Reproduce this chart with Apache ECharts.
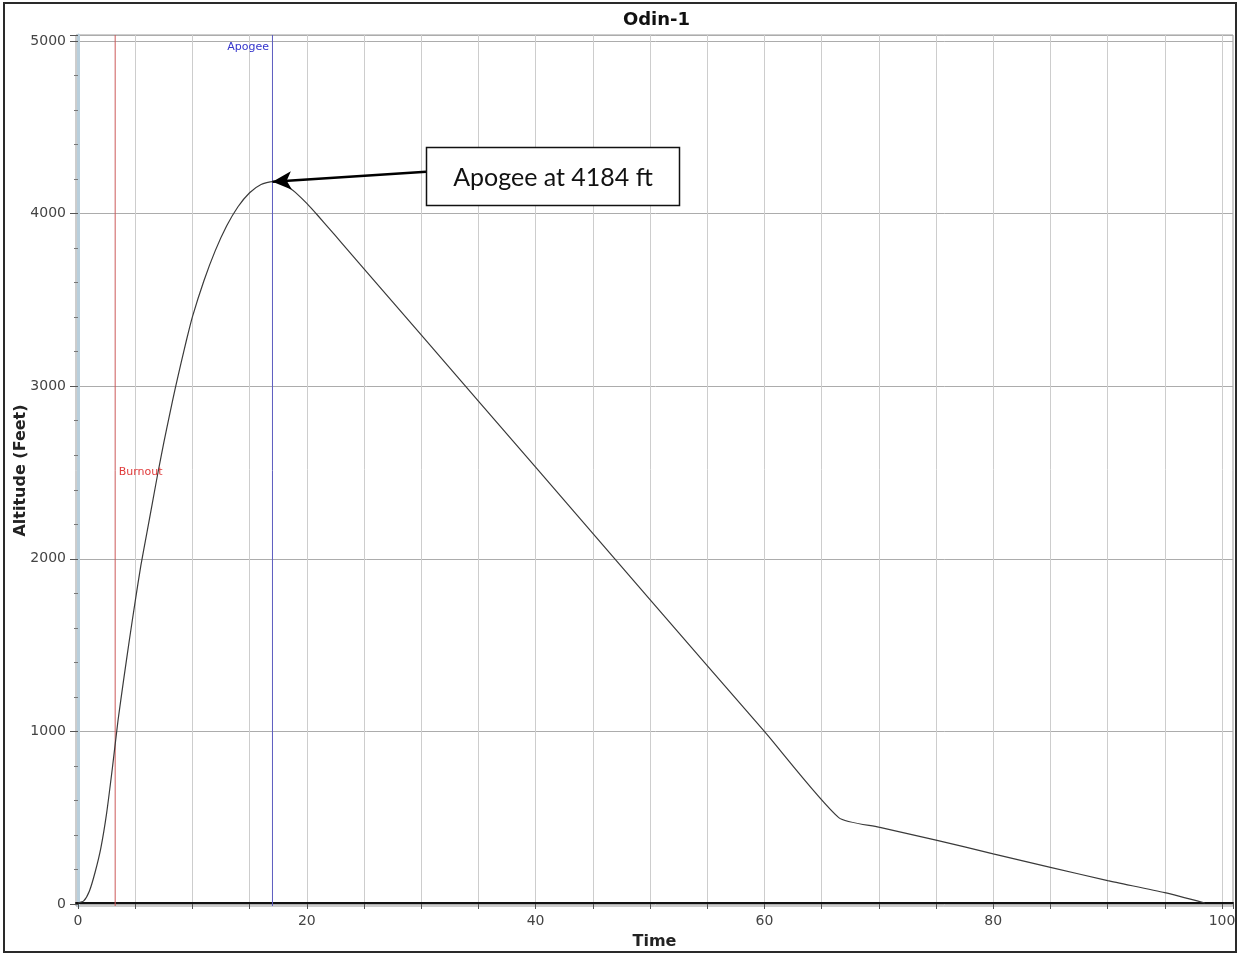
<!DOCTYPE html>
<html><head><meta charset="utf-8">
<script src="https://cdn.jsdelivr.net/npm/echarts@6/dist/echarts.min.js"></script>
<style>html,body{margin:0;padding:0;background:#fff}#c{width:1239px;height:955px}</style>
</head><body><div id="c"></div>
<script>
// ---- data ----
const TIME_S = [0, 0.5, 1.0, 1.5, 2.0, 2.5, 3.0, 3.5, 4.0, 4.5, 5.0, 5.5, 6.0, 6.5, 7.0, 7.5, 8.0, 8.5, 9.0, 9.5, 10.0, 11.0, 12.0, 13.0, 14.0, 15.0, 16.0, 17.0, 17.5, 18.0, 18.5, 19.0, 20.0, 21.0, 22.0, 23.0, 25.0, 30.0, 40.0, 50.0, 60.0, 66.5, 70.0, 75.0, 80.0, 85.0, 90.0, 95.0, 98.5];
const ALTITUDE_FT = [0, 12, 70, 180, 320, 520, 780, 1060, 1300, 1530, 1750, 1960, 2140, 2320, 2500, 2670, 2830, 2985, 3130, 3270, 3400, 3608, 3784, 3928, 4040, 4120, 4168, 4184, 4180, 4167, 4148, 4122, 4058, 3985, 3909, 3832, 3678, 3295, 2528, 1760, 995, 495, 440, 365, 285, 207, 130, 60, 0];
const X_LABELS = [0, 20, 40, 60, 80, 100];
const Y_LABELS = [0, 1000, 2000, 3000, 4000, 5000];
const EVENT_NAMES = ['Burnout', 'Apogee'];
const EVENT_TIMES = [3.25, 17.0];
const APOGEE_POINT = [17.0, 4184];
const NOTE_TEXT = 'Apogee at 4184 ft';

// ---- layout ----
const PX_PER_S = 11.44, PX_PER_FT = 0.1726;
const PLOT = { left: 76, top: 35, right: 1233, bottom: 907 };   // frame
const ORIGIN = { x: 78, y: 904 };                               // pixel of (0,0)
const axX = { min: 0, max: (PLOT.right - ORIGIN.x) / PX_PER_S };
const axY = { min: 0, max: (ORIGIN.y - PLOT.top) / PX_PER_FT };
const frX = { min: -(ORIGIN.x - PLOT.left) / PX_PER_S, max: axX.max };
const frY = { min: -(PLOT.bottom - ORIGIN.y) / PX_PER_FT, max: axY.max };
const NOTE_ANCHOR = [30.42, 4218];      // left-middle of the note box
const NOTE_SIZE = [253, 58];
const ARROW_START = [30.42, 4241];
const EVENT_LABEL_ALT = [2497, 4965];
const EVENT_STYLE = [
  { line: '#cc5a5a', text: '#e03a3a', pos: 'right' },
  { line: '#5c5cc0', text: '#3535cc', pos: 'left' }
];

const data = TIME_S.map((t, i) => [t, ALTITUDE_FT[i]]);
const chart = echarts.init(document.getElementById('c'), null, { renderer: 'canvas' });
const FONT = 'DejaVu Sans';

const border = {
  id: 'frame', type: 'rect', silent: true, z: 100,
  shape: { x: 4, y: 3, width: 1232, height: 949 },
  style: { fill: 'none', stroke: '#2a2a2a', lineWidth: 2 }
};

const eventSeries = EVENT_NAMES.map((n, i) => ({
  type: 'line', name: n, xAxisIndex: 1, yAxisIndex: 1, z: 1,
  data: [[EVENT_TIMES[i], frY.min], [EVENT_TIMES[i], frY.max]],
  showSymbol: false, silent: true,
  lineStyle: { color: EVENT_STYLE[i].line, width: 1 },
  markPoint: {
    silent: true, animation: false,
    data: [{
      coord: [EVENT_TIMES[i], EVENT_LABEL_ALT[i]], symbol: 'circle', symbolSize: 1,
      itemStyle: { color: 'rgba(0,0,0,0)' },
      label: { show: true, formatter: n, position: EVENT_STYLE[i].pos, distance: 3,
        fontFamily: FONT, fontSize: 11, color: EVENT_STYLE[i].text }
    }]
  }
}));

chart.setOption({
  backgroundColor: '#fff',
  animation: false,
  title: {
    text: 'Odin-1', left: (PLOT.left + PLOT.right) / 2 - 3, textAlign: 'center', top: 6,
    textStyle: { fontFamily: FONT, fontWeight: 'bold', fontSize: 18, color: '#111' }
  },
  grid: [
    { left: ORIGIN.x, top: PLOT.top, width: PLOT.right - ORIGIN.x, height: ORIGIN.y - PLOT.top, show: false },
    { left: PLOT.left, top: PLOT.top, width: PLOT.right - PLOT.left, height: PLOT.bottom - PLOT.top,
      show: true, borderColor: '#9a9a9a', borderWidth: 1, backgroundColor: 'transparent' }
  ],
  xAxis: [
    { type: 'value', gridIndex: 0, min: axX.min, max: axX.max, interval: 5, offset: 3,
      axisLine: { show: false },
      axisTick: { show: true, length: 5, lineStyle: { color: '#555' } },
      axisLabel: { margin: 7, fontFamily: FONT, fontSize: 14, color: '#444',
        formatter: v => X_LABELS.indexOf(Math.round(v * 1000) / 1000) >= 0 ? String(v) : '' },
      splitLine: { show: true, lineStyle: { color: '#cdcdcd', width: 1 } } },
    { type: 'value', gridIndex: 1, min: frX.min, max: frX.max,
      name: 'Time', nameLocation: 'middle', nameGap: 28,
      nameTextStyle: { fontFamily: FONT, fontWeight: 'bold', fontSize: 16, color: '#222' },
      axisLine: { show: true, lineStyle: { color: '#111', width: 2 } },
      axisTick: { show: false }, axisLabel: { show: false }, splitLine: { show: false } }
  ],
  yAxis: [
    { type: 'value', gridIndex: 0, min: axY.min, max: axY.max, interval: 1000, offset: 3,
      axisLine: { show: false },
      axisTick: { show: true, length: 8, lineStyle: { color: '#555' } },
      minorTick: { show: true, splitNumber: 5, length: 4, lineStyle: { color: '#777' } },
      axisLabel: { margin: 9, fontFamily: FONT, fontSize: 14, color: '#444',
        formatter: v => Y_LABELS.indexOf(Math.round(v)) >= 0 && Math.abs(v - Math.round(v)) < 1e-6 ? String(v) : '' },
      splitLine: { show: true, lineStyle: { color: '#acacac', width: 1 } } },
    { type: 'value', gridIndex: 1, min: frY.min, max: frY.max,
      name: 'Altitude (Feet)', nameLocation: 'middle', nameGap: 47,
      nameTextStyle: { fontFamily: FONT, fontWeight: 'bold', fontSize: 16, color: '#222' },
      axisLine: { show: true, lineStyle: { color: '#b9cfdc', width: 3 } },
      axisTick: { show: false }, axisLabel: { show: false }, splitLine: { show: false } }
  ],
  series: eventSeries.concat([{
    type: 'line', name: 'Altitude', xAxisIndex: 1, yAxisIndex: 1, data: data, z: 3,
    showSymbol: false, smooth: 0.2,
    lineStyle: { color: '#3a3a3a', width: 1.2 },
    markLine: {
      silent: true, animation: false, symbol: 'none',
      data: [[
        { coord: ARROW_START, symbol: 'none', label: { show: false },
          lineStyle: { color: '#000', width: 2.5, type: 'solid' } },
        { coord: APOGEE_POINT, symbol: 'arrow', symbolSize: [14, 19] }
      ]]
    }
  }]),
  graphic: [border]
});

// note box, anchored in data coordinates
const p = chart.convertToPixel({ xAxisIndex: 1, yAxisIndex: 1 }, NOTE_ANCHOR);
const bx = Math.round(p[0]) + 0.5, by = Math.round(p[1] - NOTE_SIZE[1] / 2) + 0.5;
chart.setOption({
  graphic: [border,
    { id: 'noteBox', type: 'rect', z: 95, silent: true,
      shape: { x: bx, y: by, width: NOTE_SIZE[0], height: NOTE_SIZE[1] },
      style: { fill: '#fff', stroke: '#111', lineWidth: 1.5 } },
    { id: 'noteText', type: 'text', z: 96, silent: true,
      x: bx + NOTE_SIZE[0] / 2, y: by + NOTE_SIZE[1] / 2 + 1,
      style: { text: NOTE_TEXT, font: '25px Lato', fill: '#111', align: 'center', verticalAlign: 'middle' } }
  ]
});
</script></body></html>
